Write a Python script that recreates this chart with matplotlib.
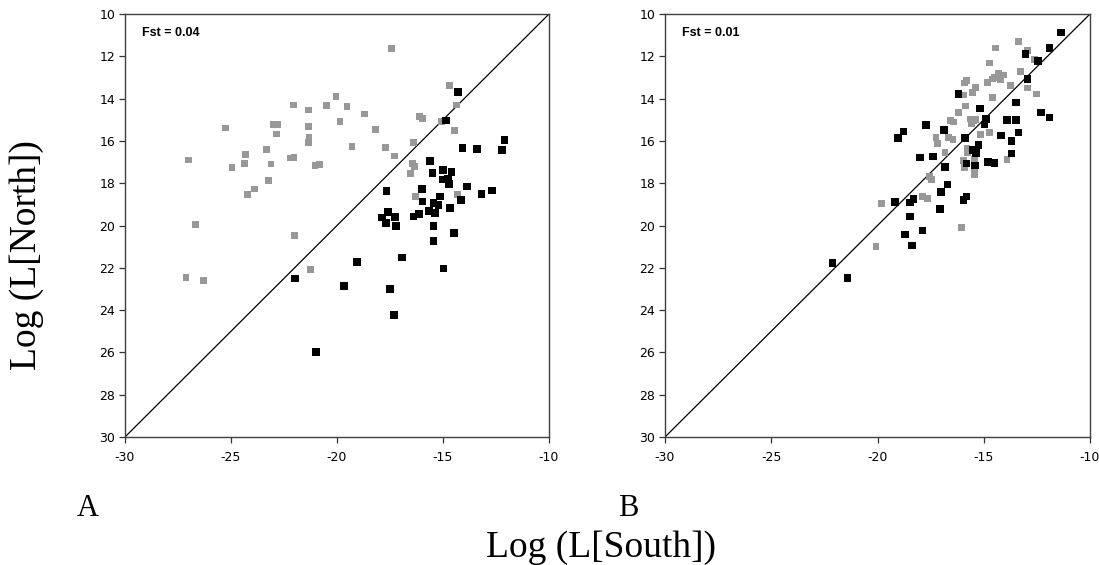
import matplotlib.pyplot as plt
import numpy as np

plt.rcParams['font.family'] = 'DejaVu Sans'
plt.rcParams['axes.unicode_minus'] = False

# panel A (Fst = 0.04): log likelihoods, grey = north samples, black = south samples
a_grey_south = [-17.42, -14.70, -14.35, -22.06, -21.35, -20.49, -20.05, -19.53, -18.71, -19.86,
                -18.19, -16.09, -15.96, -15.06, -14.47, -25.27, -23.00, -22.82, -22.85, -21.35,
                -21.32, -21.35, -19.29, -17.72, -16.38, -17.28, -27.00, -24.95, -24.31, -24.37,
                -23.32, -23.11, -22.22, -22.03, -21.04, -20.83, -16.42, -16.35, -16.54, -23.25,
                -23.90, -24.21, -16.31, -14.32, -26.67, -22.01, -27.12, -26.29, -21.26]
a_grey_north = [11.62, 13.39, 14.30, 14.30, 14.54, 14.33, 13.91, 14.38, 14.73, 15.09,
                15.47, 14.85, 14.93, 15.09, 15.52, 15.39, 15.22, 15.22, 15.67, 15.33,
                15.85, 16.07, 16.26, 16.32, 16.07, 16.71, 16.90, 17.27, 16.65, 17.05,
                16.41, 17.09, 16.81, 16.78, 17.17, 17.12, 17.06, 17.20, 17.55, 17.86,
                18.27, 18.53, 18.61, 18.53, 19.96, 20.47, 22.45, 22.59, 22.07]
a_black_south = [-14.29, -14.86, -12.09, -14.08, -13.40, -12.22, -15.60, -15.49, -15.00, -14.60,
                 -15.02, -14.75, -14.72, -15.99, -13.87, -13.18, -12.69, -15.13, -14.15, -15.96,
                 -15.45, -15.22, -14.66, -16.40, -16.13, -15.65, -15.38, -15.45, -14.47, -15.45,
                 -17.67, -17.59, -17.89, -17.69, -17.25, -17.22, -16.93, -19.07, -14.97, -19.67,
                 -17.49, -17.31, -21.97, -20.99]
a_black_north = [13.70, 15.04, 15.97, 16.34, 16.37, 16.42, 16.95, 17.52, 17.39, 17.47,
                 17.83, 17.77, 18.04, 18.26, 18.15, 18.50, 18.34, 18.62, 18.79, 18.86,
                 18.94, 19.03, 19.16, 19.58, 19.47, 19.31, 19.42, 20.02, 20.35, 20.72,
                 18.37, 19.36, 19.63, 19.88, 19.60, 20.02, 21.52, 21.73, 22.04, 22.86,
                 22.99, 24.23, 22.51, 25.98]

# panel B (Fst = 0.01)
b_grey_south = [-13.35, -14.43, -12.94, -12.61, -14.74, -13.26, -14.30, -14.07, -14.49, -14.21,
                -14.81, -14.60, -15.82, -15.91, -13.74, -12.94, -15.37, -15.93, -15.52, -12.50,
                -14.59, -16.19, -15.87, -16.58, -16.41, -15.63, -15.50, -15.39, -15.59, -15.15,
                -14.73, -17.25, -17.18, -16.64, -16.45, -15.79, -15.76, -16.82, -15.94, -15.45,
                -15.46, -15.89, -15.42, -15.42, -13.91, -17.57, -17.44, -17.88, -17.64, -19.82,
                -16.03, -20.07]
b_grey_north = [11.29, 11.61, 11.72, 12.17, 12.32, 12.73, 12.80, 12.88, 12.99, 13.12,
                13.23, 13.07, 13.14, 13.26, 13.39, 13.50, 13.48, 13.83, 13.70, 13.78,
                13.96, 14.65, 14.35, 15.04, 15.11, 14.96, 15.06, 15.00, 15.20, 15.71,
                15.61, 15.83, 16.11, 15.85, 15.93, 16.37, 16.56, 16.56, 16.93, 16.86,
                17.06, 17.27, 17.38, 17.57, 16.87, 17.69, 17.82, 18.61, 18.72, 18.95,
                20.11, 21.00]
b_black_south = [-11.36, -11.91, -13.04, -12.46, -12.94, -16.19, -13.48, -15.19, -12.30, -11.91,
                 -14.90, -14.96, -13.90, -13.47, -16.88, -13.36, -14.19, -15.87, -13.70, -15.25,
                 -15.53, -15.37, -13.70, -17.39, -15.82, -15.40, -14.80, -14.50, -16.82, -16.71,
                 -17.00, -15.82, -15.96, -17.06, -17.73, -18.78, -19.04, -18.00, -19.18, -18.31,
                 -18.47, -18.47, -17.89, -18.71, -18.39, -22.12, -21.42]
b_black_north = [10.87, 11.61, 11.88, 12.21, 13.07, 13.78, 14.18, 14.46, 14.65, 14.90,
                 14.96, 15.23, 15.01, 15.01, 15.48, 15.61, 15.74, 15.85, 16.00, 16.18,
                 16.43, 16.56, 16.60, 16.73, 17.06, 17.17, 17.01, 17.05, 17.23, 18.07,
                 18.43, 18.62, 18.79, 19.22, 15.26, 15.56, 15.85, 16.79, 18.90, 18.75,
                 18.92, 19.58, 20.24, 20.42, 20.94, 21.77, 22.48]

fst_labels = ['Fst = 0.04', 'Fst = 0.01']
x_range = [-30, -10]
y_range = [30, 10]

fig = plt.figure(figsize=(10.99, 5.65), dpi=100)
ax_a = fig.add_axes([125 / 1099, 128 / 565, 424 / 1099, 423 / 565])
ax_b = fig.add_axes([665 / 1099, 128 / 565, 425 / 1099, 423 / 565])

panels = [(ax_a, a_grey_south, a_grey_north, a_black_south, a_black_north, fst_labels[0]),
          (ax_b, b_grey_south, b_grey_north, b_black_south, b_black_north, fst_labels[1])]

for ax, gx, gy, bx, by, lab in panels:
    # 1:1 line
    ax.plot(x_range, y_range, color='black', lw=0.9, zorder=1)
    ax.scatter(gx, gy, marker='s', s=24, color='#989898', edgecolors='none', zorder=2)
    ax.scatter(bx, by, marker='s', s=30, color='black', edgecolors='none', zorder=3)
    ax.set_xlim(-30, -10)
    ax.set_ylim(30, 10)
    ax.set_xticks(np.arange(-30, -9, 5))
    ax.set_yticks(np.arange(10, 31, 2))
    ax.tick_params(direction='out', length=4, width=0.9, labelsize=9, pad=3, color='#333333')
    ax.tick_params(axis='x', pad=6)
    for sp in ax.spines.values():
        sp.set_color('#404040')
        sp.set_linewidth(1.0)
    ax.text(0.04, 0.955, lab, transform=ax.transAxes, fontsize=9, fontweight='bold',
            family='Liberation Sans', va='center', ha='left')

serif = 'Liberation Serif'
fig.text(27 / 1099, 1 - 255 / 565, 'Log (L[North])', rotation=90, family=serif,
         fontsize=27, ha='center', va='center')
fig.text(601 / 1099, 1 - 557 / 565, 'Log (L[South])', family=serif,
         fontsize=27, ha='center', va='baseline')
fig.text(88 / 1099, 1 - 516 / 565, 'A', family=serif, fontsize=22, ha='center', va='baseline')
fig.text(628 / 1099, 1 - 516 / 565, 'B', family=serif, fontsize=22, ha='center', va='baseline')

fig.savefig('out.png', dpi=100)
